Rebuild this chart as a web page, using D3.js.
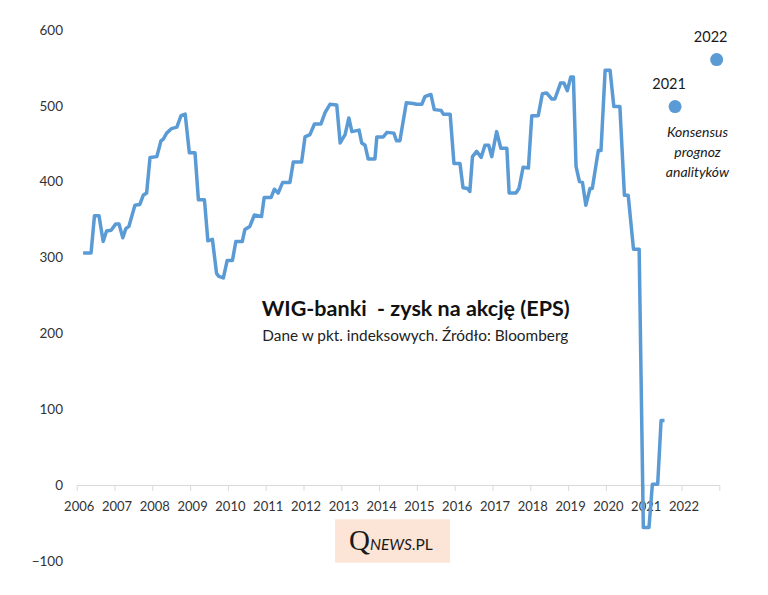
<!DOCTYPE html>
<html><head><meta charset="utf-8">
<script src="https://cdn.jsdelivr.net/npm/d3@7"></script>
<style>body{margin:0;background:#fff}svg{display:block}</style>
</head><body>
<svg id="c" width="768" height="595"></svg>
<script>
// EPS series (decimal year, value in index points)
const years = [2006.17,2006.38,2006.47,2006.59,2006.70,2006.79,2006.91,2007.03,2007.12,2007.22,2007.30,2007.38,2007.54,2007.67,2007.76,2007.85,2007.94,2008.12,2008.23,2008.29,2008.38,2008.51,2008.65,2008.76,2008.87,2008.98,2009.13,2009.22,2009.38,2009.47,2009.59,2009.70,2009.76,2009.88,2009.98,2010.12,2010.21,2010.38,2010.45,2010.58,2010.70,2010.89,2010.96,2011.14,2011.23,2011.33,2011.45,2011.64,2011.73,2011.95,2012.04,2012.17,2012.29,2012.46,2012.57,2012.70,2012.88,2012.97,2013.10,2013.20,2013.28,2013.47,2013.54,2013.63,2013.71,2013.89,2013.94,2014.11,2014.21,2014.39,2014.46,2014.55,2014.72,2014.90,2014.99,2015.13,2015.21,2015.37,2015.46,2015.64,2015.70,2015.88,2015.98,2016.14,2016.22,2016.34,2016.40,2016.47,2016.58,2016.70,2016.80,2016.90,2016.98,2017.11,2017.22,2017.38,2017.44,2017.62,2017.70,2017.81,2017.95,2018.04,2018.21,2018.32,2018.43,2018.57,2018.65,2018.80,2018.89,2018.98,2019.07,2019.14,2019.21,2019.30,2019.38,2019.47,2019.58,2019.64,2019.76,2019.80,2019.87,2019.98,2020.11,2020.21,2020.37,2020.49,2020.59,2020.73,2020.88,2020.99,2021.14,2021.23,2021.37,2021.46,2021.55];
const eps = [306,306,355,355,321,335,336,344,344,326,338,341,369,370,382,385,432,433,454,456,464,470,472,487,489,438,438,376,376,322,324,279,275,273,296,296,321,321,337,341,356,354,379,379,390,385,399,399,426,426,459,462,476,476,491,502,501,451,462,484,466,468,451,448,430,430,459,459,465,464,454,454,504,503,502,502,512,515,495,494,489,489,424,424,392,391,387,433,440,432,448,448,433,466,444,444,385,385,391,419,418,487,487,516,517,509,509,530,530,520,538,538,420,400,399,369,391,391,429,441,441,547,547,499,499,382,382,311,311,-56,-56,1,1,85,85];
// analyst consensus forecasts
const fcLabels = ["2021","2022"];
const fcYears = [2021.83,2022.93];
const fcValues = [499,561];
// axes
const xTickYears = d3.range(2006,2024);
const yTicks = [-100,0,100,200,300,400,500,600];
const title = "WIG-banki  - zysk na akcję (EPS)";
const subtitle = "Dane w pkt. indeksowych. Źródło: Bloomberg";
const note = ["Konsensus","prognoz","analityków"];

const svg = d3.select("#c");
const blue = "#5B9BD5";
const font = "Lato, 'Open Sans', sans-serif";
const x = d3.scaleLinear().domain([2006,2023]).range([76.7,719.3]);
const y = d3.scaleLinear().domain([-100,600]).range([560.8,30]);

// x axis
const xa = svg.append("g").attr("transform",`translate(0,${y(0)})`)
  .call(d3.axisBottom(x).tickValues(xTickYears).tickSize(6).tickSizeOuter(0).tickPadding(11)
    .tickFormat(d=> d<2023 ? String(d) : ""));
xa.select(".domain").attr("stroke","#d9d9d9");
xa.selectAll(".tick line").attr("stroke","#d9d9d9");
xa.selectAll(".tick text").attr("fill","#333").attr("font-family",font).attr("font-size","13px").attr("dx","2");

// y axis
const ya = svg.append("g").attr("transform","translate(67,0)")
  .call(d3.axisLeft(y).tickValues(yTicks).tickSize(0).tickPadding(4));
ya.select(".domain").remove();
ya.selectAll(".tick text").attr("fill","#333").attr("font-family",font).attr("font-size","13.5px");

// line
const pts = years.map((t,i)=>[t,eps[i]]);
svg.append("path").datum(pts)
  .attr("d",d3.line().x(d=>x(d[0])).y(d=>y(d[1])))
  .attr("fill","none").attr("stroke",blue).attr("stroke-width",3.5)
  .attr("stroke-linejoin","round").attr("stroke-linecap","butt");

// forecasts
svg.selectAll(".fc").data(fcYears).join("circle")
  .attr("cx",d=>x(d)).attr("cy",(d,i)=>y(fcValues[i])).attr("r",6.5).attr("fill",blue);
svg.selectAll(".fcl").data(fcLabels).join("text")
  .attr("x",(d,i)=>x(fcYears[i])-6).attr("y",(d,i)=>y(fcValues[i])-18)
  .attr("text-anchor","middle").attr("font-family",font).attr("font-size","14.5px").attr("fill","#1a1a1a")
  .text(d=>d);
svg.selectAll(".note").data(note).join("text")
  .attr("x",697.5).attr("y",(d,i)=>137+i*20)
  .attr("text-anchor","middle").attr("font-family",font).attr("font-style","italic")
  .attr("font-size","14px").attr("fill","#1a1a1a").text(d=>d);

// titles
svg.append("text").attr("x",261.7).attr("y",316).attr("font-family",font).attr("font-weight","bold")
  .style("white-space","pre")
  .attr("font-size","20px").attr("fill","#111").attr("textLength",308).attr("lengthAdjust","spacingAndGlyphs").text(title);
svg.append("text").attr("x",262.3).attr("y",340.5).attr("font-family",font)
  .attr("font-size","14.5px").attr("fill","#222").attr("textLength",306).attr("lengthAdjust","spacingAndGlyphs").text(subtitle);

// logo
svg.append("rect").attr("x",335).attr("y",519.3).attr("width",115).attr("height",43.4).attr("fill","#fce4d6");
const lt = svg.append("text").attr("x",349).attr("y",549.5).attr("fill","#1a1a1a");
lt.append("tspan").attr("font-family","'Liberation Serif','DejaVu Serif',serif").attr("font-size","29px").text("Q");
lt.append("tspan").attr("font-family",font).attr("font-style","italic").attr("font-size","15.5px").text("NEWS");
lt.append("tspan").attr("font-family",font).attr("font-size","15.5px").text(".PL");
</script>
</body></html>
